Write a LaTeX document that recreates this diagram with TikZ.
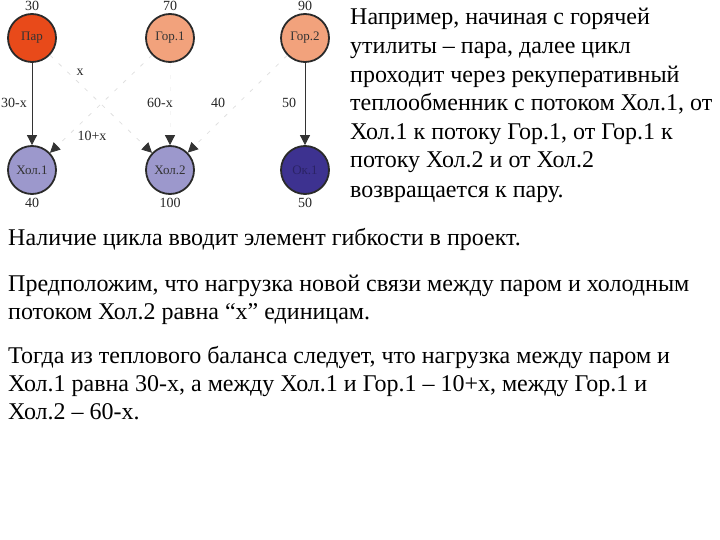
\documentclass[tikz,border=0pt]{standalone}
\usepackage{fontspec}
\setmainfont{Liberation Serif}
\usetikzlibrary{arrows.meta}
\definecolor{parc}{HTML}{E84A1A}
\definecolor{gorc}{HTML}{F2A27C}
\definecolor{holc}{HTML}{9C98CC}
\definecolor{okc}{HTML}{3D3290}
\definecolor{edgec}{HTML}{2A2A2A}
\begin{document}
\begin{tikzpicture}[x=1pt,y=-1pt,
  stream/.style={circle,draw=edgec,line width=1.8pt,minimum size=48pt,inner sep=0pt,font=\fontsize{13}{15}\selectfont,text=black!80},
  num/.style={font=\fontsize{14}{16}\selectfont,inner sep=0pt,text=black!85},
  solidlink/.style={draw=black!80,line width=0.8pt,-{Triangle[length=10pt,width=10pt,color=black!80]}},
  faintlink/.style={draw=black!12,dash pattern=on 4pt off 8pt,line width=0.8pt,-{Triangle[length=10pt,width=10pt,color=black!80]}},
  body/.style={anchor=base west,inner sep=0pt,font=\fontsize{24}{28}\selectfont}]
\useasboundingbox (0,0) rectangle (720,540);
% nodes
\node[stream,fill=parc] (par) at (32,38) {Пар};
\node[stream,fill=gorc] (gor1) at (170,38) {Гор.1};
\node[stream,fill=gorc] (gor2) at (305,38) {Гор.2};
\node[stream,fill=holc] (hol1) at (32,170) {Хол.1};
\node[stream,fill=holc] (hol2) at (170,170) {Хол.2};
\node[stream,fill=okc,text=okc!70!black] (ok1) at (305,170) {Ок.1};
% numbers
\node[num] (n1) at (32,6) {30};
\node[num] (n2) at (170,6) {70};
\node[num] (n3) at (305,6) {90};
\node[num] (n4) at (32,203) {40};
\node[num] (n5) at (170,203) {100};
\node[num] (n6) at (305,203) {50};
% connectors
\draw[solidlink] (par) -- (hol1);
\draw[solidlink] (gor2) -- (ok1);
\draw[faintlink] (par) -- (hol2);
\draw[faintlink] (gor1) -- (hol1);
\draw[faintlink,draw=black!4] (gor1) -- (hol2);
\draw[faintlink] (gor2) -- (hol2);
% labels
\node[num] (l1) at (14,103) {30-x};
\node[num] (l2) at (80,72) {x};
\node[num] (l3) at (160,103) {60-x};
\node[num] (l4) at (218,103) {40};
\node[num] (l5) at (289,103) {50};
\node[num] (l6) at (92,136) {10+x};
% text
\node[body] (t1) at (350,25) {Например, начиная с горячей};
\node[body] (t2) at (350,54) {утилиты – пара, далее цикл};
\node[body] (t3) at (350,83) {проходит через рекуперативный};
\node[body] (t4) at (350,111) {теплообменник с потоком Хол.1, от};
\node[body] (t5) at (350,140) {Хол.1 к потоку Гор.1, от Гор.1 к};
\node[body] (t6) at (350,168) {потоку Хол.2 и от Хол.2};
\node[body] (t7) at (350,197) {возвращается к пару.};
\node[body] (t8) at (8,245) {Наличие цикла вводит элемент гибкости в проект.};
\node[body] (t9) at (8,291) {Предположим, что нагрузка новой связи между паром и холодным};
\node[body] (t10) at (8,319) {потоком Хол.2 равна “x” единицам.};
\node[body] (t11) at (8,363) {Тогда из теплового баланса следует, что нагрузка между паром и};
\node[body] (t12) at (8,391) {Хол.1 равна 30-x, а между Хол.1 и Гор.1 – 10+x, между Гор.1 и};
\node[body] (t13) at (8,419) {Хол.2 – 60-x.};
\end{tikzpicture}
\end{document}
